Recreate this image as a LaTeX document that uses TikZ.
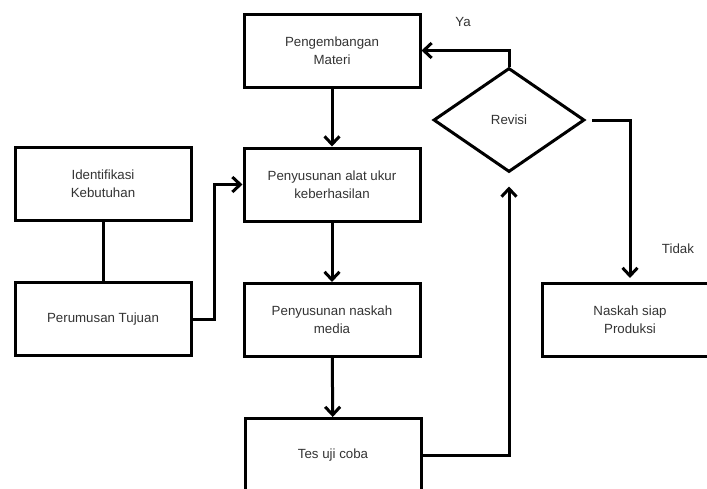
\documentclass[tikz,border=0pt]{standalone}
\usepackage{fontspec}
\setmainfont{Liberation Sans}
\usetikzlibrary{shapes.geometric,arrows.meta}

\begin{document}
\begin{tikzpicture}[x=1pt,y=-1pt,
  box/.style={draw,line width=3pt,minimum width=176pt,minimum height=73pt,
    align=center,text=black!80,font=\fontsize{13.3}{18}\selectfont},
  decision/.style={draw,diamond,line width=3pt,minimum width=151pt,
    minimum height=104pt,inner sep=0pt,text=black!80,font=\fontsize{13.3}{18}\selectfont},
  lbl/.style={text=black!80,font=\fontsize{13.3}{18}\selectfont},
  line/.style={line width=3pt},
  arr/.style={line width=3pt,-{Straight Barb[length=8pt,width=15pt]}}]
  \useasboundingbox (0,0) rectangle (707,488);
  \clip (0,0) rectangle (707,488);
  % main column
  \node[box] (peng) at (332,50.5) {Pengembangan\\Materi};
  \node[box] (alat) at (332,184.5) {Penyusunan alat ukur\\keberhasilan};
  \node[box] (naskah) at (332,320) {Penyusunan naskah\\media};
  \node[box] (tes) at (333,455) {Tes uji coba};
  % left column
  \node[box] (ident) at (103,184) {Identifikasi\\Kebutuhan};
  \node[box] (rumus) at (103,319) {Perumusan Tujuan};
  % decision
  \node[decision] (rev) at (509,120) {Revisi};
  \node[box] (siap) at (630,320) {Naskah siap\\Produksi};
  \node[lbl] (ya) at (463,22) {Ya};
  \node[lbl] (tidak) at (678,249) {Tidak};

  \draw[arr] (peng) -- (alat);
  \draw[arr] (alat) -- (naskah);
  \draw[arr] (naskah) -- (tes);
  \draw[line] (ident) -- (rumus);
  \draw[arr] (rumus.east) -- ++(22,0) |- (alat.west);
  \draw[arr,shorten >=13pt] (tes.east) -| (rev.south);
  \draw[arr] (rev.north) |- (peng.east);
  \draw[arr,shorten <=6pt,shorten >=4pt] (rev.east) -| (siap.north);
\end{tikzpicture}
\end{document}
